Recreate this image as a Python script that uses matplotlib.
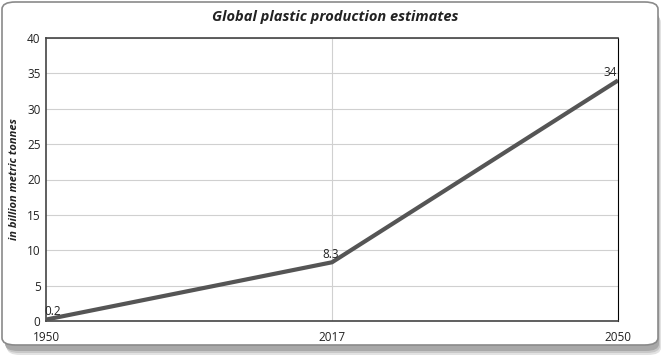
import matplotlib.pyplot as plt
from matplotlib.patches import FancyBboxPatch

years = ['1950', '2017', '2050']
production = [0.2, 8.3, 34]
y_ticks = [0, 5, 10, 15, 20, 25, 30, 35, 40]

plt.rcParams['font.family'] = ['Open Sans', 'DejaVu Sans']

fig = plt.figure(figsize=(6.7, 3.57), dpi=100)
W, H = 670, 357

# rounded frame with a soft shadow
for off, col in [(6, '#e2e2e2'), (4, '#c8c8c8'), (2, '#a8a8a8')]:
    fig.patches.append(FancyBboxPatch((4 / W + off / W * 0.5, 8 / H - off / H), 654 / W, 340 / H,
                                      boxstyle='round,pad=0,rounding_size=0.02',
                                      transform=fig.transFigure, facecolor=col,
                                      edgecolor='none', zorder=0))
fig.patches.append(FancyBboxPatch((2 / W, 12 / H), 656 / W, 343 / H,
                                  boxstyle='round,pad=0,rounding_size=0.02',
                                  transform=fig.transFigure, facecolor='white',
                                  edgecolor='#8a8a8a', linewidth=1.2, zorder=1))

ax = fig.add_axes([46 / W, 1 - 321 / H, (618 - 46) / W, (321 - 38) / H])
ax.set_zorder(2)
ax.patch.set_alpha(0)

x = range(len(years))
ax.plot(x, production, color='#555555', linewidth=3, solid_capstyle='butt', zorder=3)
for xi, v in zip(x, production):
    ax.annotate(f'{v:g}', (xi, v), xytext=(-1, 1), textcoords='offset points',
                ha='right' if xi == 2 else ('left' if xi == 0 else 'center'),
                va='bottom', fontsize=8.5, color='#222222')

ax.set_xlim(0, 2)
ax.set_ylim(0, 40)
ax.set_yticks(y_ticks)
ax.set_xticks(list(x))
ax.set_xticklabels(years)
ax.tick_params(length=0, labelsize=8.5, colors='#222222')
ax.tick_params(axis='y', pad=4)
ax.tick_params(axis='x', pad=7)
ax.grid(axis='y', color='#d0d0d0', linewidth=0.8)
ax.axvline(1, color='#d0d0d0', linewidth=0.8, zorder=0)

for side in ['left', 'bottom', 'top']:
    ax.spines[side].set_color('#444444')
    ax.spines[side].set_linewidth(1.2)
ax.spines['right'].set_color('black')
ax.spines['right'].set_linewidth(0.8)

ax.set_ylabel('in billion metric tonnes', fontsize=8, fontstyle='italic',
              fontweight='bold', color='#222222', labelpad=5)
fig.text(0.5, 1 - 17 / H, 'Global plastic production estimates', ha='center', va='center',
         fontsize=10.5, fontstyle='italic', fontweight='bold', color='#222222')

fig.savefig('out.png', dpi=100)
